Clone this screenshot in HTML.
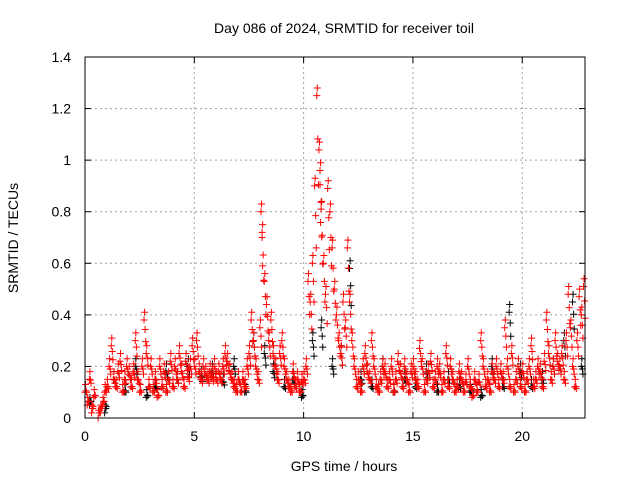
<!DOCTYPE html>
<html><head><meta charset="utf-8"><style>
body{margin:0;background:#fff}
svg{display:block;font-family:"Liberation Sans",sans-serif}
</style></head><body>
<svg id="chart" width="640" height="480">
<text x="344" y="33" font-size="14" text-anchor="middle">Day 086 of 2024, SRMTID for receiver toil</text>
<text x="344" y="471" font-size="14" text-anchor="middle">GPS time / hours</text>
<text x="18" y="238" font-size="14" text-anchor="middle" transform="rotate(-90 18 238)">SRMTID / TECUs</text>
<g id="grid"></g><g id="ticks"></g><g id="black"></g><g id="red"></g>
<rect x="85" y="57" width="500" height="361" fill="none" stroke="#000"/>
</svg>
<script>
const xTicks=[0,5,10,15,20];
const yTicks=[0,0.2,0.4,0.6,0.8,1,1.2,1.4];
const yTickLabels=["0","0.2","0.4","0.6","0.8","1","1.2","1.4"];
const redTimes=[0,0.1,0.2,0.3,0.4,0.6,0.7,0.8,0.9,1.0,1.1,1.2,1.3,1.4,1.5,1.6,1.7,1.8,1.9,2.0,2.1,2.2,2.3,2.4,2.5,2.6,2.7,2.8,2.9,3.0,3.1,3.2,3.3,3.4,3.5,3.6,3.7,3.8,3.9,4.0,4.1,4.2,4.3,4.4,4.5,4.6,4.7,4.8,4.9,5.0,5.1,5.2,5.3,5.4,5.5,5.6,5.7,5.8,5.9,6.0,6.1,6.2,6.3,6.4,6.5,6.6,6.7,6.8,6.9,7.0,7.1,7.2,7.3,7.4,7.5,7.6,7.7,7.8,7.9,8.0,8.05,8.1,8.2,8.3,8.4,8.5,8.6,8.7,8.8,8.9,9.0,9.1,9.2,9.3,9.4,9.5,9.6,9.7,9.8,9.9,10.0,10.1,10.2,10.3,10.4,10.5,10.6,10.7,10.75,10.8,10.9,11.0,11.1,11.2,11.3,11.4,11.5,11.6,11.7,11.8,11.9,12.0,12.1,12.2,12.3,12.4,12.5,12.6,12.7,12.8,12.9,13.0,13.1,13.2,13.3,13.4,13.5,13.6,13.7,13.8,13.9,14.0,14.1,14.2,14.3,14.4,14.5,14.6,14.7,14.8,14.9,15.0,15.1,15.2,15.3,15.4,15.5,15.6,15.7,15.8,15.9,16.0,16.1,16.2,16.3,16.4,16.5,16.6,16.7,16.8,16.9,17.0,17.1,17.2,17.3,17.4,17.5,17.6,17.7,17.8,17.9,18.0,18.1,18.2,18.3,18.4,18.5,18.6,18.7,18.8,18.9,19.0,19.1,19.2,19.3,19.4,19.5,19.6,19.7,19.8,19.9,20.0,20.1,20.2,20.3,20.4,20.5,20.6,20.7,20.8,20.9,21.0,21.1,21.2,21.3,21.4,21.5,21.6,21.7,21.8,21.9,22.0,22.1,22.2,22.3,22.4,22.5,22.6,22.7,22.8];
const redValues=[0.1,0.05,0.15,0.02,0.08,0.0,0.02,0.05,0.1,0.12,0.2,0.28,0.15,0.12,0.18,0.22,0.1,0.15,0.2,0.17,0.12,0.18,0.3,0.15,0.1,0.2,0.38,0.25,0.12,0.2,0.1,0.15,0.08,0.2,0.12,0.18,0.1,0.15,0.22,0.12,0.2,0.15,0.25,0.18,0.12,0.22,0.16,0.2,0.28,0.2,0.3,0.18,0.15,0.2,0.17,0.15,0.18,0.16,0.2,0.15,0.18,0.15,0.2,0.25,0.22,0.18,0.15,0.12,0.1,0.15,0.1,0.15,0.12,0.2,0.25,0.38,0.3,0.2,0.15,0.35,0.8,0.72,0.53,0.44,0.3,0.38,0.25,0.2,0.15,0.25,0.3,0.2,0.15,0.12,0.1,0.18,0.12,0.15,0.1,0.14,0.15,0.2,0.53,0.45,0.6,0.9,1.25,1.04,0.96,0.81,0.6,0.48,0.89,0.8,0.66,0.5,0.4,0.3,0.25,0.45,0.35,0.66,0.45,0.3,0.2,0.12,0.15,0.1,0.2,0.25,0.18,0.15,0.3,0.2,0.12,0.1,0.15,0.2,0.18,0.12,0.15,0.2,0.1,0.15,0.22,0.18,0.12,0.2,0.15,0.1,0.18,0.2,0.15,0.12,0.27,0.2,0.1,0.15,0.18,0.22,0.12,0.15,0.2,0.18,0.1,0.15,0.25,0.12,0.2,0.15,0.1,0.12,0.18,0.15,0.1,0.14,0.2,0.12,0.08,0.15,0.1,0.14,0.3,0.2,0.12,0.15,0.1,0.18,0.15,0.2,0.12,0.18,0.15,0.35,0.2,0.12,0.25,0.1,0.15,0.2,0.12,0.18,0.1,0.15,0.2,0.28,0.12,0.15,0.2,0.18,0.12,0.22,0.38,0.25,0.15,0.2,0.3,0.22,0.2,0.25,0.15,0.3,0.48,0.35,0.2,0.12,0.3,0.47,0.4,0.51,0.12];
const blackTimes=[0.2,0.9,1.3,1.8,2.3,2.8,3.2,3.7,4.2,4.7,5.3,5.8,6.3,6.8,7.3,7.7,8.2,8.6,9.1,9.5,9.9,10.4,10.8,11.3,11.7,12.1,12.6,13.1,13.6,14.1,14.6,15.1,15.6,16.1,16.6,17.1,17.6,18.1,18.6,19.1,19.4,19.9,20.4,20.9,21.4,21.9,22.3,22.7];
const blackValues=[0.05,0.02,0.15,0.1,0.2,0.08,0.12,0.18,0.15,0.2,0.16,0.18,0.14,0.2,0.1,0.3,0.25,0.18,0.12,0.15,0.08,0.3,0.35,0.2,0.25,0.58,0.15,0.12,0.2,0.1,0.15,0.12,0.18,0.1,0.15,0.12,0.1,0.08,0.2,0.12,0.41,0.18,0.12,0.15,0.2,0.3,0.45,0.2];
const X=t=>85+t*(500/22.87), Y=v=>418-v*(361/1.4);
const NS="http://www.w3.org/2000/svg";
const grid=document.getElementById('grid'),ticks=document.getElementById('ticks');
function mk(tag,attrs,parent){const e=document.createElementNS(NS,tag);for(const k in attrs)e.setAttribute(k,attrs[k]);parent.appendChild(e);return e;}
xTicks.forEach(t=>{
 const x=X(t);
 if(t>0){const g=mk('line',{x1:x,x2:x,y1:57,y2:418,stroke:'#a0a0a0','stroke-dasharray':'2,3'},grid);
 
 }
 mk('line',{x1:x,x2:x,y1:418,y2:412,stroke:'#000'},ticks);
 mk('line',{x1:x,x2:x,y1:57,y2:63,stroke:'#000'},ticks);
 const l=mk('text',{x:x,y:441,'font-size':14,'text-anchor':'middle'},ticks);l.textContent=t;
 
 
});
yTicks.forEach((v,i)=>{
 const y=Y(v);
 if(v>0&&v<1.4){const g=mk('line',{x1:85,x2:585,y1:y,y2:y,stroke:'#a0a0a0','stroke-dasharray':'2,3'},grid);
 
 }
 mk('line',{x1:85,x2:91,y1:y,y2:y,stroke:'#000'},ticks);
 mk('line',{x1:585,x2:579,y1:y,y2:y,stroke:'#000'},ticks);
 const l=mk('text',{x:71,y:y+5,'font-size':14,'text-anchor':'end'},ticks);l.textContent=yTickLabels[i];
 
 
});
function plot(ts,vs,col,id,nm){
 const g=document.getElementById(id);let d='';
 const cross=(x,y)=>{d+=`M${x-3.5},${y}h7M${x},${y-3.5}v7`;};
 ts.forEach((t,i)=>{
  cross(X(t),Y(vs[i]));
  cross(X(t+0.05),Y(vs[i]*0.85+0.02));
  cross(X(t+0.025),Y(vs[i]+0.03));
  cross(X(t+0.075),Y(vs[i]*0.7+0.03));
 });
 const p=mk('path',{d:d,stroke:col,'stroke-width':1,fill:'none'},g);
 
 
}
plot(blackTimes,blackValues,'#000','black','black-series-points');
plot(redTimes,redValues,'#f00','red','red-series-points');
</script>
</body></html>
